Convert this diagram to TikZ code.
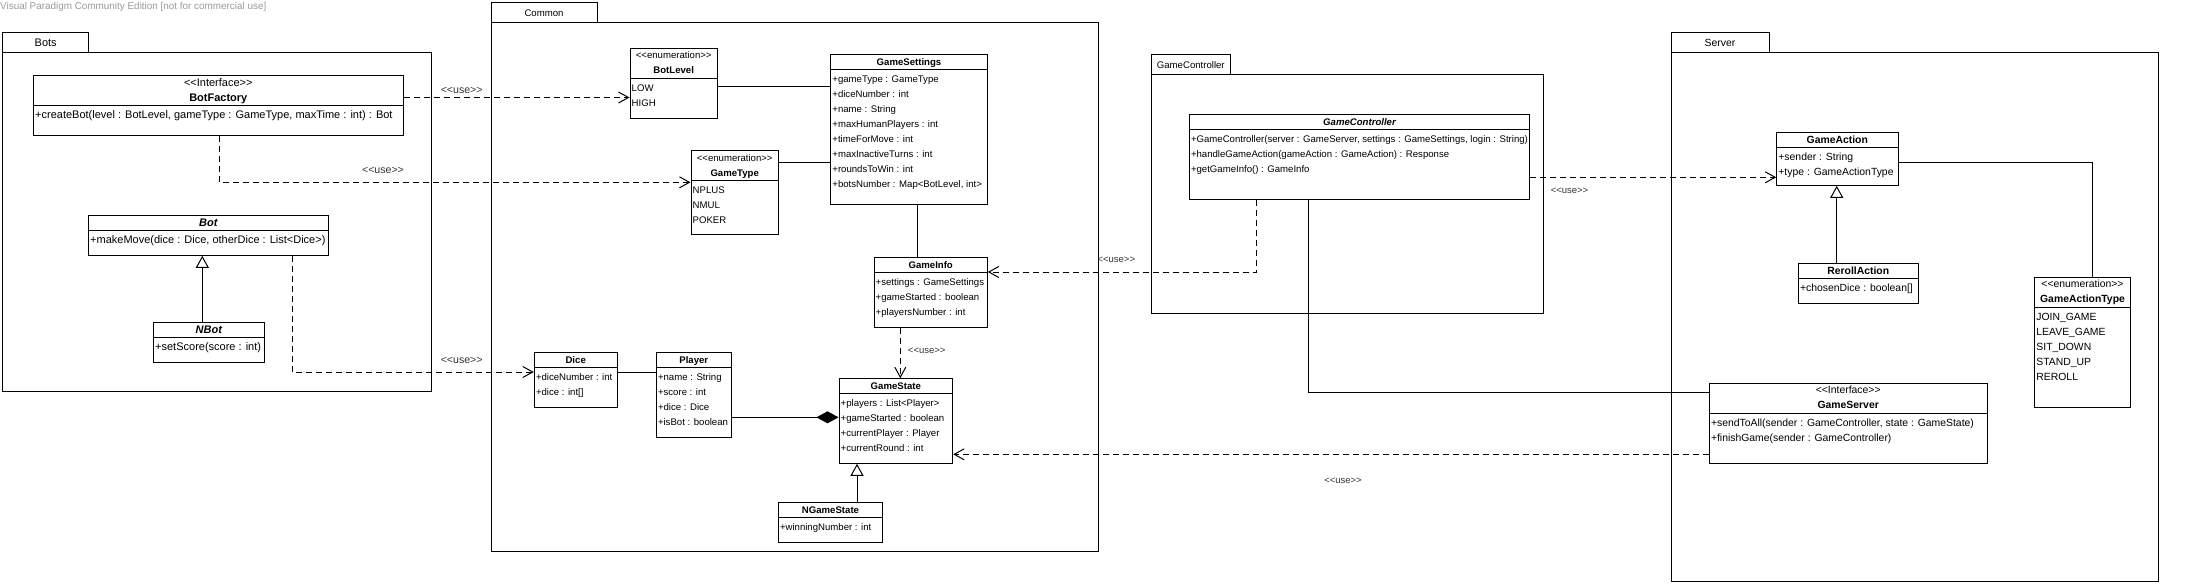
\documentclass[tikz,border=0pt]{standalone}
\usepackage{fontspec}
\setmainfont{Liberation Sans}[Ligatures=TeXOff]
\usetikzlibrary{arrows.meta,fit}

\def\fs{10}
\def\ufs{9.5}
\tikzset{
  classbox/.style={draw, inner sep=0pt, line width=1pt},
  pkg/.style={draw, inner sep=0pt, line width=1pt},
  attr/.style={anchor=base west, inner sep=0pt, font=\fontsize{\fs}{12}\selectfont},
  cname/.style={anchor=base, inner sep=0pt, font=\fontsize{\fs}{12}\selectfont\bfseries},
  aname/.style={anchor=base, inner sep=0pt, font=\fontsize{\fs}{12}\selectfont\bfseries\itshape},
  stereo/.style={anchor=base, inner sep=0pt, font=\fontsize{\fs}{12}\selectfont},
  pkglabel/.style={anchor=base, inner sep=0pt, font=\fontsize{\fs}{12}\selectfont},
  uselabel/.style={inner sep=0pt, font=\fontsize{\ufs}{12}\selectfont, text=black!80},
  use/.style={draw, line width=1pt, dash pattern=on 6pt off 4pt, -{Straight Barb[length=10pt,width=11pt]}},
  assoc/.style={draw, line width=1pt},
  gen/.style={draw, line width=1pt, -{Triangle[open, length=12pt, width=13pt]}},
  comp/.style={draw, line width=1pt, -{Diamond[length=22pt, width=12pt]}},
}

\newcommand\umlclass[6]{%
  \node[classbox, fit={(#2,#3) (#4,#5)}] (#1) {};
  \draw[line width=1pt] (#2,#6) -- (#4,#6);
}
\newcommand\umlrows[4]{%
  \foreach \t [count=\i] in {#4} {\node[attr] (#1\i) at (#2,{#3+15*(\i-1)}) {\t};}
}

\begin{document}
\begin{tikzpicture}[x=1pt,y=-1pt]
\useasboundingbox (0,0) rectangle (2186,586);

\node[anchor=base west, inner sep=0pt, font=\fontsize{9.9}{10}\selectfont, text=black!40] (wm) at (0,9.5) {Visual Paradigm Community Edition [not for commercial use]};

% ================= Bots (11px)
\def\fs{11}
\node[pkg, fit={(2.7,32.7) (88.7,52.3)}] (BotsTab) {};
\node[pkg, fit={(2.7,52.3) (431.3,391.3)}] (Bots) {};
\node[pkglabel] (BotsLbl) at (45.7,46.5) {Bots};

\umlclass{BotFactory}{33.3}{75.7}{403.3}{135.3}{105.3}
\node[stereo] (BotFactoryS) at (218.3,86.2) {<<Interface>>};
\node[cname] (BotFactoryN) at (218.3,101.2) {BotFactory};
\umlrows{BotFactoryR}{35}{118.3}{{+createBot(level : BotLevel, gameType : GameType, maxTime : int) : Bot}}

\umlclass{Bot}{88.3}{215.7}{328.3}{255.3}{230}
\node[aname] (BotN) at (208.3,226.7) {Bot};
\umlrows{BotR}{90}{243}{{+makeMove(dice : Dice, otherDice : List<Dice>)}}

\umlclass{NBot}{153.3}{322.7}{264.3}{362.3}{337}
\node[aname] (NBotN) at (208.8,333.7) {NBot};
\umlrows{NBotR}{155}{350}{{+setScore(score : int)}}

% ================= Common (9.6px)
\def\fs{9.6}
\node[pkg, fit={(491,2.3) (597.3,22.3)}] (CommonTab) {};
\node[pkg, fit={(491,22.3) (1098.7,551)}] (Common) {};
\node[pkglabel] (CommonLbl) at (544,16.3) {Common};

\umlclass{BotLevel}{630}{48.3}{717.3}{118.3}{78.7}
\node[stereo] (BotLevelS) at (673.7,58.8) {<<enumeration>>};
\node[cname] (BotLevelN) at (673.7,73.8) {BotLevel};
\umlrows{BotLevelR}{631.5}{91.7}{LOW,HIGH}

\umlclass{GameSettings}{830.7}{54.7}{987.3}{204.3}{69.7}
\node[cname] (GameSettingsN) at (909,65.7) {GameSettings};
\umlrows{GameSettingsR}{832.2}{82.7}{{+gameType : GameType},{+diceNumber : int},{+name : String},{+maxHumanPlayers : int},{+timeForMove : int},{+maxInactiveTurns : int},{+roundsToWin : int},{+botsNumber : Map<BotLevel, int>}}

\umlclass{GameType}{691}{150.7}{778.3}{234.3}{180.7}
\node[stereo] (GameTypeS) at (734.7,161.2) {<<enumeration>>};
\node[cname] (GameTypeN) at (734.7,176.2) {GameType};
\umlrows{GameTypeR}{692.5}{193.7}{NPLUS,NMUL,POKER}

\umlclass{GameInfo}{874}{257.3}{987.3}{327.3}{272.3}
\node[cname] (GameInfoN) at (930.7,268.3) {GameInfo};
\umlrows{GameInfoR}{875.5}{285.3}{{+settings : GameSettings},{+gameStarted : boolean},{+playersNumber : int}}

\umlclass{Dice}{534.3}{352.3}{617}{407.3}{367.3}
\node[cname] (DiceN) at (575.7,363.3) {Dice};
\umlrows{DiceR}{535.8}{380.3}{{+diceNumber : int},{+dice : int[]}}

\umlclass{Player}{656.3}{352.3}{731.3}{437.3}{367.3}
\node[cname] (PlayerN) at (693.8,363.3) {Player};
\umlrows{PlayerR}{657.8}{380.3}{{+name : String},{+score : int},{+dice : Dice},{+isBot : boolean}}

\umlclass{GameState}{839}{378.7}{952.7}{463.3}{393.7}
\node[cname] (GameStateN) at (895.8,389.7) {GameState};
\umlrows{GameStateR}{840.5}{406.7}{{+players : List<Player>},{+gameStarted : boolean},{+currentPlayer : Player},{+currentRound : int}}

\umlclass{NGameState}{778.3}{502.3}{882.7}{542.3}{517.3}
\node[cname] (NGameStateN) at (830.5,513.3) {NGameState};
\umlrows{NGameStateR}{779.8}{530.3}{{+winningNumber : int}}

% ================= GameController (9.6px)
\node[pkg, fit={(1151.7,54.3) (1230,74.3)}] (GCTab) {};
\node[pkg, fit={(1151.7,74.3) (1543,313.3)}] (GCPkg) {};
\node[pkglabel] (GCLbl) at (1190.8,68.3) {GameController};

\umlclass{GameController}{1189.3}{114.3}{1529.7}{199.3}{129.3}
\node[aname] (GameControllerN) at (1359.5,125.3) {GameController};
\umlrows{GameControllerR}{1190.8}{142.3}{{+GameController(server : GameServer, settings : GameSettings, login : String)},{+handleGameAction(gameAction : GameAction) : Response},{+getGameInfo() : GameInfo}}

% ================= Server (10.4px)
\def\fs{10.4}
\node[pkg, fit={(1671,32.3) (1769,52.3)}] (ServerTab) {};
\node[pkg, fit={(1671,52.3) (2158.7,581.7)}] (Server) {};
\node[pkglabel] (ServerLbl) at (1720,46.3) {Server};

\umlclass{GameAction}{1776.7}{132.3}{1898}{185.3}{147.3}
\node[cname] (GameActionN) at (1837.3,143.3) {GameAction};
\umlrows{GameActionR}{1778.2}{160.3}{{+sender : String},{+type : GameActionType}}

\umlclass{RerollAction}{1798.3}{263.3}{1918}{303.3}{278.3}
\node[cname] (RerollActionN) at (1858.2,274.3) {RerollAction};
\umlrows{RerollActionR}{1799.8}{291.3}{{+chosenDice : boolean[]}}

\umlclass{GameActionType}{2034.7}{277.3}{2130.3}{407.3}{307.7}
\node[stereo] (GameActionTypeS) at (2082.5,287.8) {<<enumeration>>};
\node[cname] (GameActionTypeN) at (2082.5,302.8) {GameActionType};
\umlrows{GameActionTypeR}{2036.2}{320.7}{JOIN\_GAME,LEAVE\_GAME,SIT\_DOWN,STAND\_UP,REROLL}

\umlclass{GameServer}{1709.3}{383.3}{1987}{463.3}{413.3}
\node[stereo] (GameServerS) at (1848.2,393.8) {<<Interface>>};
\node[cname] (GameServerN) at (1848.2,408.8) {GameServer};
\umlrows{GameServerR}{1710.8}{426.3}{{+sendToAll(sender : GameController, state : GameState)},{+finishGame(sender : GameController)}}

% ================= dependencies (<<use>>)
\draw[use] (BotFactory.east |- 0,97.5) -- (BotLevel.west |- 0,97.5);
\draw[use] (BotFactory.south -| 219.3,0) |- (GameType.west |- 0,182.3);
\draw[use] (Bot.south -| 292.3,0) |- (Dice.west |- 0,372);
\draw[use] (GameController.south -| 1256.7,0) |- (GameInfo.east |- 0,272);
\draw[use] (GameInfo.south -| 900.3,0) -- (GameState.north -| 900.3,0);
\draw[use] (GameServer.west |- 0,454.3) -- (GameState.east |- 0,454.3);
\draw[use] (GameController.east |- 0,177.3) -- (GameAction.west |- 0,177.3);

\def\ufs{10.6}
\node[uselabel] (u1) at (461.7,90) {<<use>>};
\node[uselabel] (u2) at (383,170) {<<use>>};
\node[uselabel] (u3) at (461.7,360) {<<use>>};
\def\ufs{9.5}
\node[uselabel] (u4) at (1116.3,260) {<<use>>};
\node[uselabel] (u5) at (926.7,350.3) {<<use>>};
\node[uselabel] (u6) at (1569.5,190.3) {<<use>>};
\node[uselabel] (u7) at (1343,480.3) {<<use>>};

% ================= associations
\draw[assoc] (BotLevel.east |- 0,86.3) -- (GameSettings.west |- 0,86.3);
\draw[assoc] (GameType.east |- 0,162.3) -- (GameSettings.west |- 0,162.3);
\draw[assoc] (GameSettings.south -| 917.7,0) -- (GameInfo.north -| 917.7,0);
\draw[assoc] (Dice.east |- 0,372) -- (Player.west |- 0,372);
\draw[comp] (Player.east |- 0,417.3) -- (GameState.west |- 0,417.3);
\draw[assoc] (GameController.south -| 1308.7,0) |- (GameServer.west |- 0,392);
\draw[assoc] (GameAction.east |- 0,162.3) -| (GameActionType.north -| 2092,0);

% ================= generalizations
\draw[gen] (NBot.north -| 202.3,0) -- (Bot.south -| 202.3,0);
\draw[gen] (NGameState.north -| 857,0) -- (GameState.south -| 857,0);
\draw[gen] (RerollAction.north -| 1836.7,0) -- (GameAction.south -| 1836.7,0);
\end{tikzpicture}
\end{document}
